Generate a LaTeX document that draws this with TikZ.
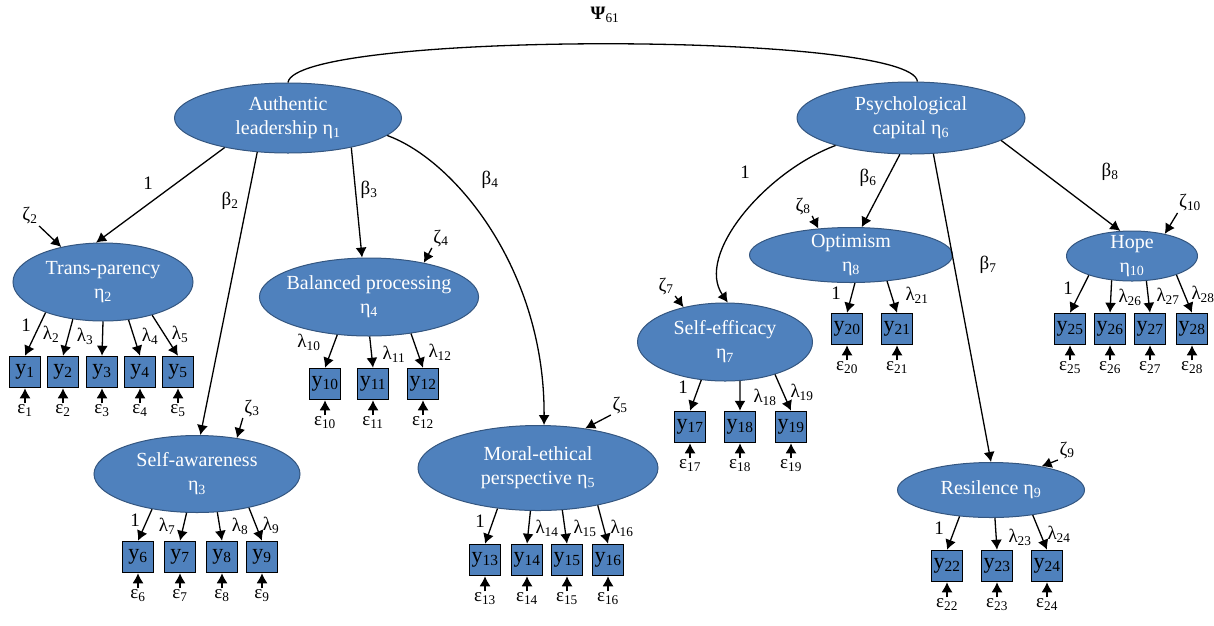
\documentclass[tikz,border=0pt]{standalone}
\usepackage{fontspec}
\setmainfont{Liberation Serif}
\usetikzlibrary{arrows.meta, positioning, shapes.geometric}
\definecolor{latfill}{RGB}{79,129,189}
\definecolor{latedge}{RGB}{52,86,128}
\tikzset{>={Latex[length=10pt,width=11pt]}}

\begin{document}
\begin{tikzpicture}[x=1pt, y=-1pt, line width=1.3pt,
  latent/.style={ellipse, draw=latedge, line width=1pt, fill=latfill, text=white, align=center, inner sep=-5pt, font=\fontsize{20}{24}\selectfont},
  manifest/.style={rectangle, draw=black, line width=1.5pt, fill=latfill, minimum width=31pt, minimum height=31pt, inner sep=0pt, font=\fontsize{22}{22}\selectfont},
  lab/.style={inner sep=1pt, font=\fontsize{19}{20}\selectfont}]
\useasboundingbox (0,0) rectangle (1214,625);

% latent variables
\node[latent, minimum width=227pt, minimum height=70pt] (al) at (288,118) {Authentic\\leadership η\textsubscript{1}};
\node[latent, minimum width=228pt, minimum height=72pt] (pc) at (911,118) {Psychological\\capital η\textsubscript{6}};
\node[latent, minimum width=180pt, minimum height=78pt] (trans) at (103,282) {Trans-parency\\η\textsubscript{2}};
\node[latent, minimum width=206pt, minimum height=77pt] (sa) at (197,474) {Self-awareness\\η\textsubscript{3}};
\node[latent, minimum width=208pt, minimum height=78pt] (bp) at (369,297) {Balanced processing\\η\textsubscript{4}};
\node[latent, minimum width=240pt, minimum height=85pt] (moral) at (538,468) {Moral-ethical\\perspective η\textsubscript{5}};
\node[latent, minimum width=175pt, minimum height=78pt] (se) at (725,342) {Self-efficacy\\η\textsubscript{7}};
\node[latent, minimum width=203pt, minimum height=55pt] (opt) at (851,255) {Optimism\\η\textsubscript{8}};
\node[latent, minimum width=187pt, minimum height=55pt] (res) at (991,490) {Resilence η\textsubscript{9}};
\node[latent, minimum width=131pt, minimum height=50pt] (hope) at (1132,256) {Hope\\η\textsubscript{10}};

% indicators with their errors
\foreach \i/\x/\y in {1/25/372, 2/63/372, 3/102/372, 4/140/372, 5/178/372,
  6/138/557, 7/180/557, 8/222/557, 9/262/557,
  10/325/384, 11/373/384, 12/423/384,
  13/485/560, 14/527/560, 15/567/560, 16/608/560,
  17/690/427, 18/740/427, 19/791/427,
  20/847/329, 21/897/329,
  22/947/566, 23/997/566, 24/1047/566,
  25/1070/329, 26/1110/329, 27/1150/329, 28/1192/329} {
  \node[manifest] (y\i) at (\x,\y) {y\textsubscript{\i}};
  \node[lab, below=15pt of y\i] (e\i) {ε\textsubscript{\i}};
  \draw[->] (e\i) -- (y\i);
}

% loadings
\foreach \a/\i in {-152/1, -129/2, -90/3, -56/4, -34/5} \draw[->] (trans.\a) -- (y\i.north);
\foreach \a/\i in {-142/6, -105/7, -62/8, -33/9} \draw[->] (sa.\a) -- (y\i.north);
\foreach \a/\i in {-130/10, -89/11, -41/12} \draw[->] (bp.\a) -- (y\i.north);
\foreach \a/\i in {-135/13, -100/14, -60/15, -32/16} \draw[->] (moral.\a) -- (y\i.north);
\foreach \a/\i in {-122/17, -69/18, -33/19} \draw[->] (se.\a) -- (y\i.north);
\foreach \a/\i in {-82/20, -36/21} \draw[->] (opt.\a) -- (y\i.north);
\foreach \a/\i in {-140/22, -82/23, -31/24} \draw[->] (res.\a) -- (y\i.north);
\foreach \a/\i in {-156/25, -130/26, -60/27, -23/28} \draw[->] (hope.\a) -- (y\i.north);

\node[lab] (l1) at (26,325) {1};
\node[lab] (l2) at (51,334) {λ\textsubscript{2}};
\node[lab] (l3) at (85,336) {λ\textsubscript{3}};
\node[lab] (l4) at (150,336) {λ\textsubscript{4}};
\node[lab] (l5) at (180,334) {λ\textsubscript{5}};
\node[lab] (l6) at (135,520) {1};
\node[lab] (l7) at (167,526) {λ\textsubscript{7}};
\node[lab] (l8) at (240,526) {λ\textsubscript{8}};
\node[lab] (l9) at (271,525) {λ\textsubscript{9}};
\node[lab] (l10) at (309,342) {λ\textsubscript{10}};
\node[lab] (l11) at (394,354) {λ\textsubscript{11}};
\node[lab] (l12) at (440,352) {λ\textsubscript{12}};
\node[lab] (l13) at (480,521) {1};
\node[lab] (l14) at (547,528) {λ\textsubscript{14}};
\node[lab] (l15) at (585,528) {λ\textsubscript{15}};
\node[lab] (l16) at (622,528) {λ\textsubscript{16}};
\node[lab] (l17) at (683,387) {1};
\node[lab] (l18) at (765,397) {λ\textsubscript{18}};
\node[lab] (l19) at (802,392) {λ\textsubscript{19}};
\node[lab] (l20) at (836,293) {1};
\node[lab] (l21) at (917,295) {λ\textsubscript{21}};
\node[lab] (l22) at (939,528) {1};
\node[lab] (l23) at (1020,537) {λ\textsubscript{23}};
\node[lab] (l24) at (1059,534) {λ\textsubscript{24}};
\node[lab] (l25) at (1068,288) {1};
\node[lab] (l26) at (1130,297) {λ\textsubscript{26}};
\node[lab] (l27) at (1168,296) {λ\textsubscript{27}};
\node[lab] (l28) at (1203,294) {λ\textsubscript{28}};

% structural paths
\draw (al.90) .. controls (295,31) and (913,31) .. (pc.80);
\node[lab] (psi) at (605,15) {\textbf{Ψ}\textsubscript{61}};
\draw[->] (al.-155) -- (trans.100);
\draw[->] (al.-132) -- (sa.85);
\draw[->] (al.-25) -- (bp.100);
\draw[->] (al.-10) .. controls (455,160) and (545,270) .. (moral.82);
\draw[->] (pc.-160) .. controls (765,172) and (695,255) .. (se.86);
\draw[->] (pc.-107) -- (opt.69);
\draw[->] (pc.-58) -- (res.90);
\draw[->] (pc.-14) -- (hope.115);
\node[lab] (b1) at (148,183) {1};
\node[lab] (b2) at (230,201) {β\textsubscript{2}};
\node[lab] (b3) at (369,190) {β\textsubscript{3}};
\node[lab] (b4) at (490,180) {β\textsubscript{4}};
\node[lab] (b5) at (745,172) {1};
\node[lab] (b6) at (868,178) {β\textsubscript{6}};
\node[lab] (b7) at (988,265) {β\textsubscript{7}};
\node[lab] (b8) at (1110,172) {β\textsubscript{8}};

% disturbances
\node[lab] (z2) at (30,216) {ζ\textsubscript{2}};
\node[lab] (z3) at (252,408) {ζ\textsubscript{3}};
\node[lab] (z4) at (441,238) {ζ\textsubscript{4}};
\node[lab] (z5) at (620,405) {ζ\textsubscript{5}};
\node[lab] (z7) at (666,286) {ζ\textsubscript{7}};
\node[lab] (z8) at (803,206) {ζ\textsubscript{8}};
\node[lab] (z9) at (1067,450) {ζ\textsubscript{9}};
\node[lab] (z10) at (1190,203) {ζ\textsubscript{10}};
\draw[->] (z2.south east) -- (trans.140);
\draw[->] (z3.south west) -- (sa.42);
\draw[->] (z4.south west) -- (bp.32);
\draw[->] (z5.south west) -- (moral.40);
\draw[->] (z7.south east) -- (se.140);
\draw[->] (z8.south east) -- (opt.141);
\draw[->] (z9.south west) -- (res.25);
\draw[->] (z10.south west) -- (hope.34);
\end{tikzpicture}
\end{document}
